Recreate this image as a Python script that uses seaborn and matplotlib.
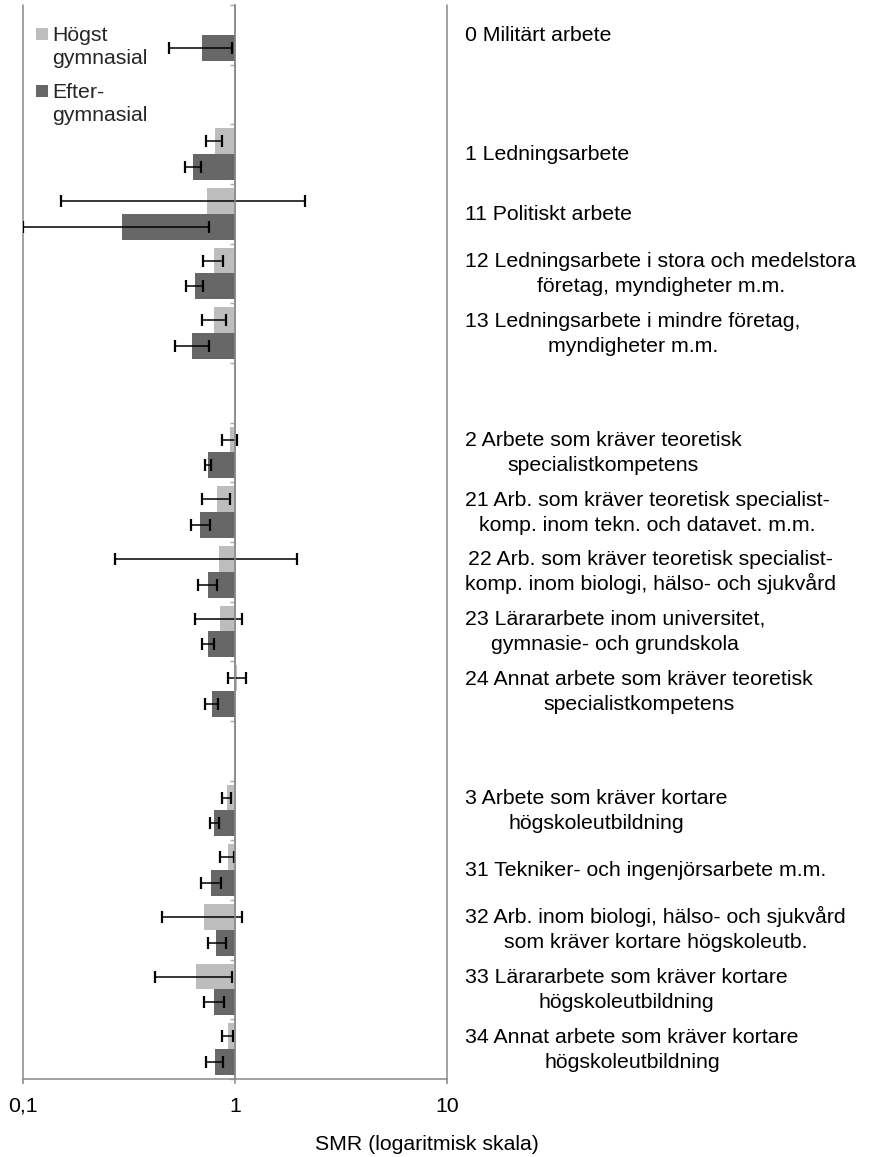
import numpy as np
import pandas as pd
import seaborn as sns
import matplotlib.pyplot as plt
from matplotlib.ticker import FixedLocator
from matplotlib.patches import Rectangle
from matplotlib.legend_handler import HandlerPatch

# =============================================================================
# Data (SMR with 95% CI), rows top to bottom; "" rows are empty spacer slots
# =============================================================================

row_ids = ["0", "gap_a", "1", "11", "12", "13", "gap_b",
           "2", "21", "22", "23", "24", "gap_c",
           "3", "31", "32", "33", "34"]

row_labels = [
    "0 Militärt arbete",
    "",
    "1 Ledningsarbete",
    "11 Politiskt arbete",
    "12 Ledningsarbete i stora och medelstora\nföretag, myndigheter m.m.",
    "13 Ledningsarbete i mindre företag,\nmyndigheter m.m.",
    "",
    "2 Arbete som kräver teoretisk\nspecialistkompetens",
    "21 Arb. som kräver teoretisk specialist-\nkomp. inom tekn. och datavet. m.m.",
    "22 Arb. som kräver teoretisk specialist-\nkomp. inom biologi, hälso- och sjukvård",
    "23 Lärararbete inom universitet,\ngymnasie- och grundskola",
    "24 Annat arbete som kräver teoretisk\nspecialistkompetens",
    "",
    "3 Arbete som kräver kortare\nhögskoleutbildning",
    "31 Tekniker- och ingenjörsarbete m.m.",
    "32 Arb. inom biologi, hälso- och sjukvård\nsom kräver kortare högskoleutb.",
    "33 Lärararbete som kräver kortare\nhögskoleutbildning",
    "34 Annat arbete som kräver kortare\nhögskoleutbildning",
]

nan = np.nan

# Högst gymnasial
low_smr = [nan, nan, 0.805, 0.738, 0.796, 0.799, nan,
           0.947, 0.823, 0.844, 0.850, 1.02, nan,
           0.917, 0.927, 0.714, 0.657, 0.930]
low_ci_lo = [nan, nan, 0.728, 0.151, 0.709, 0.700, nan,
             0.866, 0.700, 0.271, 0.648, 0.927, nan,
             0.869, 0.850, 0.452, 0.421, 0.869]
low_ci_hi = [nan, nan, 0.865, 2.14, 0.881, 0.904, nan,
             1.018, 0.947, 1.95, 1.075, 1.12, nan,
             0.961, 0.985, 1.075, 0.965, 0.979]

# Eftergymnasial
high_smr = [0.700, nan, 0.636, 0.294, 0.648, 0.625, nan,
            0.749, 0.687, 0.743, 0.746, 0.779, nan,
            0.799, 0.774, 0.817, 0.796, 0.805]
high_ci_lo = [0.490, nan, 0.581, 0.100, 0.586, 0.520, nan,
              0.722, 0.621, 0.672, 0.700, 0.719, nan,
              0.760, 0.689, 0.743, 0.712, 0.730]
high_ci_hi = [0.965, nan, 0.694, 0.752, 0.709, 0.752, nan,
              0.774, 0.762, 0.823, 0.799, 0.832, nan,
              0.844, 0.860, 0.904, 0.890, 0.875]

groups = ["Högst\ngymnasial", "Efter-\ngymnasial"]
colors = ["#BDBDBD", "#676767"]

x_ticks = [0.1, 1, 10]
x_tick_labels = ["0,1", "1", "10"]

# =============================================================================
# Long table, plotted on log10 axis so bars start at SMR = 1
# =============================================================================

df = pd.DataFrame({
    "row": row_ids * 2,
    "group": [groups[0]] * len(row_ids) + [groups[1]] * len(row_ids),
    "smr": low_smr + high_smr,
    "lo": low_ci_lo + high_ci_lo,
    "hi": low_ci_hi + high_ci_hi,
})
df["log_smr"] = np.log10(df["smr"])

# =============================================================================
# Plot
# =============================================================================

sns.set_style("white")
plt.rcParams["font.family"] = ["Liberation Sans", "DejaVu Sans"]

axis_grey = "#898989"
fs = 15.3
px = 0.72  # points per pixel at dpi=100

fig = plt.figure(figsize=(8.69, 11.57), dpi=100)
ax = fig.add_axes([22.7 / 869, 1 - 1079 / 1157, (447.5 - 22.7) / 869, (1079 - 5) / 1157])

sns.barplot(
    data=df,
    x="log_smr",
    y="row",
    hue="group",
    order=row_ids,
    hue_order=groups,
    palette=colors,
    orient="h",
    width=0.87,
    errorbar=None,
    saturation=1,
    linewidth=0,
    legend=False,
    ax=ax
)

# Error bars, placed on the drawn bars
for container, group in zip(ax.containers, groups):
    sub = df[df["group"] == group].reset_index(drop=True)
    for bar in container:
        yc = bar.get_y() + bar.get_height() / 2
        i = int(round(yc))
        r = sub.loc[i]
        if np.isnan(r["smr"]):
            continue
        lx = np.log10(r["smr"])
        ax.errorbar(
            lx, yc,
            xerr=[[lx - np.log10(r["lo"])], [np.log10(r["hi"]) - lx]],
            fmt="none",
            ecolor="black",
            elinewidth=1.1,
            capsize=4.3,
            capthick=1.6,
            zorder=3
        )

# Axes styling
ax.set_xlim(np.log10(x_ticks[0]), np.log10(x_ticks[-1]))
ax.set_ylim(len(row_ids) - 0.5, -0.5)
ax.set_xticks(np.log10(x_ticks))
ax.set_xticklabels(x_tick_labels, fontsize=fs)
ax.set_xlabel("")
ax.set_ylabel("")

ax.grid(axis="x", color=axis_grey, linewidth=1.1)
for line in ax.get_xgridlines():
    line.set_clip_on(False)
ax.set_axisbelow(True)

for side in ["top", "right"]:
    ax.spines[side].set_visible(False)
ax.spines["left"].set_position(("data", 0))
ax.spines["left"].set_color(axis_grey)
ax.spines["left"].set_linewidth(1.1)
ax.spines["left"].set_zorder(4)
ax.spines["bottom"].set_color(axis_grey)
ax.spines["bottom"].set_linewidth(1.1)

ax.tick_params(axis="y", which="major", left=False, labelleft=False)
ax.yaxis.set_minor_locator(FixedLocator(np.arange(-0.5, len(row_ids), 1)))
ax.tick_params(axis="y", which="minor", left=True, direction="out",
               length=3.6, width=1.0, color="#A8A8A8")
ax.tick_params(axis="x", which="major", bottom=True, direction="out",
               length=3.6, width=1.1, color=axis_grey, pad=9, labelcolor="black")

# Category labels right of the plot: lines centred on each other,
# block left-aligned, fixed line pitch
label_x = 1.0415
line_pitch = 25      # px between baselines
baseline_shift = 6.0  # px from row centre to baseline of a single line

renderer = fig.canvas.get_renderer()
for i, label in enumerate(row_labels):
    if not label:
        continue
    lines = label.split("\n")
    texts = [
        ax.annotate(line, xy=(label_x, i), xycoords=ax.get_yaxis_transform(),
                    xytext=(0, 0), textcoords="offset points",
                    ha="left", va="baseline", fontsize=fs, color="black",
                    annotation_clip=False)
        for line in lines
    ]
    widths = [t.get_window_extent(renderer).width for t in texts]
    block_w = max(widths)
    n = len(lines)
    for k, t in enumerate(texts):
        dy = (k - (n - 1) / 2) * line_pitch + baseline_shift
        t.set_ha("center")
        t.set_position((block_w / 2 * px, -dy * px))

fig.text(427 / 869, 1 - 1145 / 1157, "SMR (logaritmisk skala)",
         ha="center", va="center", fontsize=fs, color="black")


# Legend: square beside the first line of each two-line label
class FirstLineSquare(HandlerPatch):
    def create_artists(self, legend, orig_handle, xdescent, ydescent,
                       width, height, fontsize, trans):
        side = 0.56 * fontsize
        sq = Rectangle((-xdescent, 0.70 * fontsize), side, side,
                       facecolor=orig_handle.get_facecolor(),
                       edgecolor="none", transform=trans)
        return [sq]


handles = [Rectangle((0, 0), 1, 1, facecolor=c) for c in colors]
leg = ax.legend(
    handles, groups,
    loc="upper left",
    bbox_to_anchor=(36 / 869, 1 - 26 / 1157),
    bbox_transform=fig.transFigure,
    frameon=False,
    fontsize=fs,
    handlelength=0.56,
    handletextpad=0.22,
    labelspacing=0.68,
    borderpad=0,
    borderaxespad=0,
    handler_map={Rectangle: FirstLineSquare()}
)
for t in leg.get_texts():
    t.set_linespacing(1.3)

plt.savefig("out.png", dpi=100)
